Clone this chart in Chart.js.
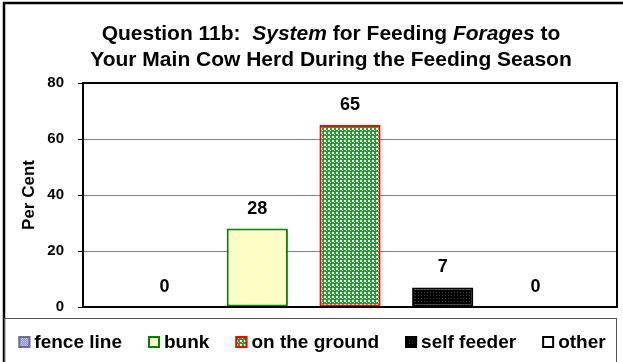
<!DOCTYPE html>
<html>
<head>
<meta charset="utf-8">
<script src="https://cdn.jsdelivr.net/npm/chart.js@4/dist/chart.umd.min.js"></script>
<style>
  html, body { margin: 0; padding: 0; background: #ffffff; }
  #wrap { position: relative; width: 623px; height: 362px; }
</style>
</head>
<body>
<div id="wrap"><canvas id="chart"></canvas></div>
<script>
// Survey answers: how forages are fed to the main cow herd
const categories = ['fence line', 'bunk', 'on the ground', 'self feeder', 'other'];
const perCent = [0, 28, 65, 7, 0];
const yTickValues = [0, 20, 40, 60, 80];
const titleLine1 = [
  { text: 'Question 11b:  ', italic: false },
  { text: 'System', italic: true },
  { text: ' for Feeding ', italic: false },
  { text: 'Forages', italic: true },
  { text: ' to', italic: false }
];
const titleLine2 = 'Your Main Cow Herd During the Feeding Season';
const yAxisTitle = 'Per Cent';

const FONT = '"Liberation Sans", Arial, Helvetica, sans-serif';
const canvas = document.getElementById('chart');
const ctx = canvas.getContext('2d');

// small tiled fills for the bars
function tile(size, paint) {
  const c = document.createElement('canvas');
  c.width = size; c.height = size;
  const g = c.getContext('2d');
  paint(g);
  return ctx.createPattern(c, 'repeat');
}
const fenceFill = tile(2, g => {
  g.fillStyle = '#9090d0'; g.fillRect(0, 0, 2, 2);
  g.fillStyle = '#c0c0ec'; g.fillRect(0, 0, 1, 1); g.fillRect(1, 1, 1, 1);
});
const bunkFill = tile(4, g => {
  g.fillStyle = '#ffffb4'; g.fillRect(0, 0, 4, 4);
  g.fillStyle = '#ffffff';
  for (let i = 0; i < 4; i++) g.fillRect(i, 3 - i, 1, 1);
});
const groundFill = tile(4, g => {
  g.fillStyle = '#22a030'; g.fillRect(0, 0, 4, 4);
  g.fillStyle = '#ffffff'; g.fillRect(0, 0, 2, 2); g.fillRect(2, 2, 1, 1);
});
const selfFill = tile(3, g => {
  g.fillStyle = '#000000'; g.fillRect(0, 0, 3, 3);
  g.fillStyle = '#3c3c3c'; g.fillRect(1, 1, 1, 1);
});
const fills = [fenceFill, bunkFill, groundFill, selfFill, '#ffffff'];
const borders = ['#6e6e8e', '#008000', '#ff0000', '#000000', '#000000'];

const datasets = categories.map((name, i) => ({
  label: name,
  data: [perCent[i]],
  backgroundColor: fills[i],
  borderColor: borders[i],
  borderWidth: 2,
  borderSkipped: false
}));

// outer frame, legend box and plot border
const framePlugin = {
  id: 'frame',
  beforeDraw(chart) {
    const c = chart.ctx;
    c.save();
    c.fillStyle = '#ffffff';
    c.fillRect(0, 0, chart.width, chart.height);
    c.strokeStyle = '#000000';
    c.lineWidth = 2.5;
    c.strokeRect(4, 3, 660, 400);
    c.strokeStyle = '#555555';
    c.lineWidth = 1;
    c.strokeRect(4.5, 318.5, 612, 80);
    c.restore();
  },
  afterDatasetsDraw(chart) {
    const a = chart.chartArea;
    const c = chart.ctx;
    c.save();
    c.strokeStyle = '#000000';
    c.lineWidth = 2;
    c.strokeRect(a.left, a.top, a.right - a.left, a.bottom - a.top);
    c.restore();
  }
};

// two-line heading with italic words
const headingPlugin = {
  id: 'heading',
  afterDraw(chart) {
    const c = chart.ctx;
    const cx = 331;
    c.save();
    c.fillStyle = '#000000';
    c.textBaseline = 'middle';
    c.textAlign = 'left';
    const fontFor = it => (it ? 'italic ' : '') + 'bold 21px ' + FONT;
    let total = 0;
    titleLine1.forEach(s => { c.font = fontFor(s.italic); total += c.measureText(s.text).width; });
    let x = cx - total / 2;
    titleLine1.forEach(s => {
      c.font = fontFor(s.italic);
      c.fillText(s.text, x, 34);
      x += c.measureText(s.text).width;
    });
    c.font = fontFor(false);
    c.textAlign = 'center';
    c.fillText(titleLine2, cx, 60);
    c.restore();
  }
};

// value labels above each bar
const valuePlugin = {
  id: 'values',
  afterDatasetsDraw(chart) {
    const c = chart.ctx;
    c.save();
    c.font = 'bold 18px ' + FONT;
    c.fillStyle = '#000000';
    c.textAlign = 'center';
    c.textBaseline = 'middle';
    chart.data.datasets.forEach((ds, i) => {
      const bar = chart.getDatasetMeta(i).data[0];
      c.fillText(String(ds.data[0]), bar.x, bar.y - 20);
    });
    c.restore();
  }
};

// legend row inside the lower box
const legendPlugin = {
  id: 'boxLegend',
  afterDraw(chart) {
    const c = chart.ctx;
    const box = 12, gap = 4, spacing = 26, cy = 342, cx = 312;
    c.save();
    c.font = 'bold 19px ' + FONT;
    const items = chart.data.datasets.map(ds => ({
      ds, w: box + gap + c.measureText(ds.label).width
    }));
    const total = items.reduce((s, it) => s + it.w, 0) + spacing * (items.length - 1);
    let x = cx - total / 2;
    items.forEach(it => {
      c.fillStyle = it.ds.backgroundColor;
      c.fillRect(x, cy - box / 2, box, box);
      c.strokeStyle = it.ds.borderColor;
      c.lineWidth = 2;
      c.strokeRect(x + 1, cy - box / 2 + 1, box - 2, box - 2);
      c.fillStyle = '#000000';
      c.textAlign = 'left';
      c.textBaseline = 'middle';
      c.fillText(it.ds.label, x + box + gap, cy + 1);
      x += it.w + spacing;
    });
    c.restore();
  }
};

new Chart(canvas, {
  type: 'bar',
  data: { labels: [''], datasets },
  options: {
    responsive: true,
    maintainAspectRatio: false,
    animation: false,
    events: [],
    layout: { padding: { left: 14, top: 83, right: 6, bottom: 55 } },
    datasets: { bar: { categoryPercentage: 0.868, barPercentage: 0.66 } },
    plugins: { legend: { display: false }, title: { display: false }, tooltip: { enabled: false } },
    scales: {
      x: {
        ticks: { display: false },
        grid: { display: false, drawTicks: false },
        border: { display: true, color: '#000000', width: 2 },
        afterFit(scale) { scale.height = 0; }
      },
      y: {
        min: 0,
        max: 80,
        afterBuildTicks(scale) { scale.ticks = yTickValues.map(v => ({ value: v })); },
        ticks: {
          color: '#000000',
          font: { family: FONT, size: 15, weight: 'bold' },
          padding: 14
        },
        grid: { color: '#808080', lineWidth: 1, tickLength: 5, tickColor: '#000000', tickWidth: 1 },
        border: { display: true, color: '#000000', width: 2 },
        title: {
          display: true,
          text: yAxisTitle,
          color: '#000000',
          font: { family: FONT, size: 17, weight: 'bold' },
          padding: { top: 5, bottom: 0 }
        },
        afterFit(scale) { scale.width = 69; }
      }
    }
  },
  plugins: [framePlugin, headingPlugin, valuePlugin, legendPlugin]
});
</script>
</body>
</html>
